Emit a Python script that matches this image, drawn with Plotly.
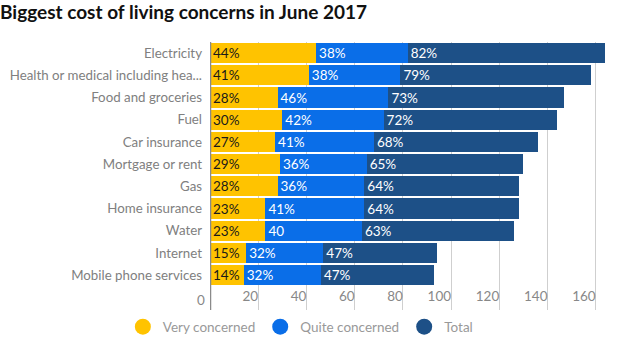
import plotly.graph_objects as go

categories = ["Electricity", "Health or medical including hea...", "Food and groceries", "Fuel",
              "Car insurance", "Mortgage or rent", "Gas", "Home insurance", "Water",
              "Internet", "Mobile phone services"]
very = [44, 41, 28, 30, 27, 29, 28, 23, 23, 15, 14]
quite = [38, 38, 46, 42, 41, 36, 36, 41, 40, 32, 32]
total = [82, 79, 73, 72, 68, 65, 64, 64, 63, 47, 47]
very_text = [f"{v}%" for v in very]
quite_text = [f"{v}%" for v in quite]
quite_text[8] = "40"
total_text = [f"{v}%" for v in total]
tick_vals = [0, 20, 40, 60, 80, 100, 120, 140, 160]

C_VERY = "#FFC300"
C_QUITE = "#0A6EE8"
C_TOTAL = "#1D5087"
FONT = "Lato"

fig = go.Figure()
series = [("Very concerned", very, very_text, C_VERY, "#1a1a1a"),
          ("Quite concerned", quite, quite_text, C_QUITE, "white"),
          ("Total", total, total_text, C_TOTAL, "white")]
for name, vals, txt, col, tcol in series:
    fig.add_trace(go.Bar(
        y=categories, x=vals, orientation="h", name=name, text=txt,
        textposition="inside", insidetextanchor="start", textangle=0,
        textfont=dict(family=FONT, size=13.5, color=tcol), constraintext="none",
        marker=dict(color=col, line=dict(width=0)), showlegend=False,
        hoverinfo="x+y"))
for name, vals, txt, col, tcol in series:
    fig.add_trace(go.Scatter(
        x=[None], y=[None], mode="markers", name=name,
        marker=dict(symbol="circle", size=16, color=col)))

fig.add_shape(type="line", xref="x", yref="paper", x0=0, x1=0, y0=0, y1=1,
              line=dict(color="#8a8a8a", width=2.5), layer="above")
fig.add_annotation(x=tick_vals[0], y=0, xref="x", yref="paper", text=str(tick_vals[0]),
                   showarrow=False, xanchor="right", yanchor="bottom", xshift=-3, yshift=0,
                   font=dict(family=FONT, color="#888888", size=13.5))

fig.update_layout(
    width=631, height=350, barmode="stack", bargap=0.09,
    margin=dict(l=210, r=16, t=42, b=40, autoexpand=False),
    paper_bgcolor="white", plot_bgcolor="white",
    font=dict(family=FONT, size=13, color="#777777"),
    title=dict(text="<b>Biggest cost of living concerns in June 2017</b>",
               x=0, xref="container", xanchor="left", y=0.965, yanchor="middle",
               font=dict(family="Lato", size=19, color="#111111")),
    legend=dict(orientation="h", xref="container", x=0.476, xanchor="center",
                yref="container", y=0.066, yanchor="middle", traceorder="normal",
                font=dict(size=13.5, color="#999999"), itemwidth=30),
    xaxis=dict(range=[0, 168], tickvals=tick_vals, showgrid=True, gridcolor="#cfcfcf",
               gridwidth=1, zeroline=False, ticks="", automargin=False,
               ticklabelposition="inside left",
               tickfont=dict(color="#888888", size=13.5)),
    yaxis=dict(range=[11.57, -0.5], showgrid=False, zeroline=False, ticks="",
               automargin=False, ticklabelstandoff=7,
               tickfont=dict(color="#808080", size=13.3)),
)

fig.write_html("out.html")
